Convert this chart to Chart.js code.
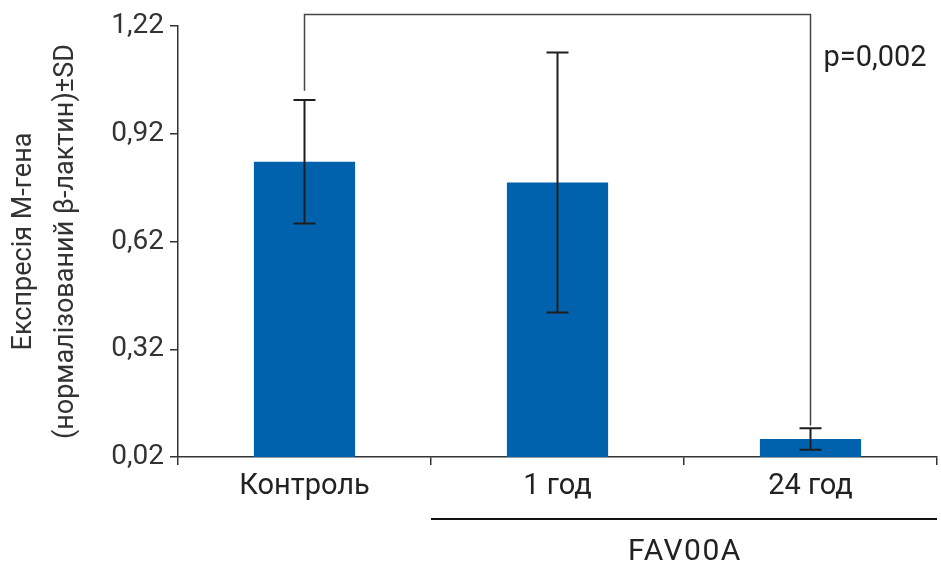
<!DOCTYPE html>
<html lang="uk">
<head>
    <meta charset="UTF-8">
    <title>Експресія М-гена</title>
    <script src="https://cdn.jsdelivr.net/npm/chart.js"></script>
    <style>
        html, body { margin: 0; padding: 0; background: #fff; }
        #wrap { width: 941px; height: 565px; }
    </style>
</head>
<body>
    <div id="wrap"><canvas id="chart" width="941" height="565"></canvas></div>

    <script>
        const categories = ['Контроль', '1 год', '24 год'];
        const means = [0.842, 0.784, 0.07];
        const sds = [0.172, 0.362, 0.03];
        const yTicks = [0.02, 0.32, 0.62, 0.92, 1.22];
        const groupLabel = 'FAV00A';
        const groupFrom = 1;            // first category under the group line
        const pLabel = 'p=0,002';
        const bracketFrom = 0, bracketTo = 2;
        const bracketTop = 1.252, bracketLeftEnd = 1.04, bracketRightEnd = 0.108;

        const extras = {
            id: 'extras',
            afterDatasetsDraw(chart) {
                const ctx = chart.ctx, x = chart.scales.x, y = chart.scales.y;
                ctx.save();
                // error bars
                ctx.strokeStyle = '#1e1e1e';
                ctx.lineWidth = 2;
                means.forEach((m, i) => {
                    const cx = x.getPixelForValue(i);
                    const top = y.getPixelForValue(m + sds[i]);
                    const bot = y.getPixelForValue(m - sds[i]);
                    ctx.beginPath();
                    ctx.moveTo(cx, top); ctx.lineTo(cx, bot);
                    ctx.moveTo(cx - 11, top); ctx.lineTo(cx + 11, top);
                    ctx.moveTo(cx - 11, bot); ctx.lineTo(cx + 11, bot);
                    ctx.stroke();
                });
                // significance bracket
                const x1 = x.getPixelForValue(bracketFrom), x2 = x.getPixelForValue(bracketTo);
                ctx.strokeStyle = '#444';
                ctx.lineWidth = 1.5;
                ctx.beginPath();
                ctx.moveTo(x1, y.getPixelForValue(bracketLeftEnd));
                ctx.lineTo(x1, y.getPixelForValue(bracketTop));
                ctx.lineTo(x2, y.getPixelForValue(bracketTop));
                ctx.lineTo(x2, y.getPixelForValue(bracketRightEnd));
                ctx.stroke();
                ctx.fillStyle = '#222';
                ctx.font = '29px Roboto, sans-serif';
                ctx.textAlign = 'left';
                ctx.textBaseline = 'middle';
                ctx.fillText(pLabel, x2 + 13, y.getPixelForValue(1.13));
                // group line under categories
                const gl = (x.getPixelForValue(groupFrom - 1) + x.getPixelForValue(groupFrom)) / 2;
                const gy = chart.chartArea.bottom + 62;
                ctx.strokeStyle = '#111';
                ctx.lineWidth = 2;
                ctx.beginPath();
                ctx.moveTo(gl, gy); ctx.lineTo(x.right, gy);
                ctx.stroke();
                ctx.font = '30px Roboto, sans-serif';
                ctx.letterSpacing = '1.5px';
                ctx.textAlign = 'center';
                ctx.fillText(groupLabel, (x.getPixelForValue(1) + x.getPixelForValue(2)) / 2 + 1, gy + 33);
                ctx.restore();
            }
        };

        new Chart(document.getElementById('chart'), {
            type: 'bar',
            data: {
                labels: categories,
                datasets: [{
                    data: means,
                    backgroundColor: '#0062ad',
                    categoryPercentage: 1,
                    barPercentage: 0.4
                }]
            },
            options: {
                responsive: false,
                animation: false,
                layout: { padding: { top: 26, right: 4, left: 0, bottom: 0 } },
                plugins: { legend: { display: false }, tooltip: { enabled: false } },
                scales: {
                    x: {
                        grid: { drawOnChartArea: false, offset: true, tickLength: 8, color: '#333', lineWidth: 1.5 },
                        border: { color: '#333', width: 1.5 },
                        ticks: { color: '#222', padding: 4, font: { family: 'Roboto, sans-serif', size: 29 } },
                        afterFit(scale) { scale.height = 108; }
                    },
                    y: {
                        min: 0.02,
                        max: 1.22,
                        afterBuildTicks(scale) { scale.ticks = yTicks.map(v => ({ value: v })); },
                        grid: { drawOnChartArea: false, tickLength: 8, color: '#333', lineWidth: 1.5 },
                        border: { color: '#333', width: 1.5 },
                        ticks: {
                            color: '#333',
                            padding: 6,
                            font: { family: 'Roboto, sans-serif', size: 28 },
                            callback: v => v.toFixed(2).replace('.', ',')
                        },
                        title: {
                            display: true,
                            text: ['Експресія М-гена', '(нормалізований β-лактин)±SD'],
                            color: '#333',
                            font: { family: 'Roboto, sans-serif', size: 27, lineHeight: 1.55 },
                            padding: { top: 3, bottom: 0 }
                        },
                        afterFit(scale) { scale.width = 178; }
                    }
                }
            },
            plugins: [extras]
        });
    </script>
</body>
</html>
